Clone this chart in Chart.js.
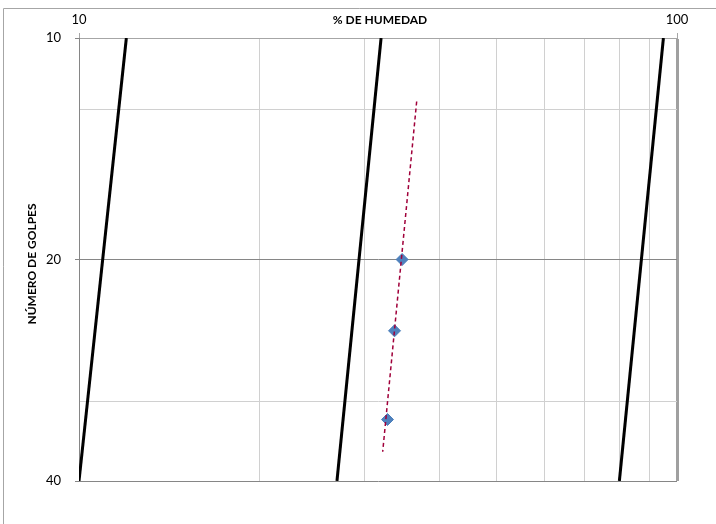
<!DOCTYPE html>
<html>
<head>
<meta charset="utf-8">
<script src="https://cdn.jsdelivr.net/npm/chart.js@4/dist/chart.umd.min.js"></script>
<style>
  html, body { margin: 0; padding: 0; background: #fff; }
  #wrap { width: 716px; height: 524px; position: relative; }
</style>
</head>
<body>
<div id="wrap"><canvas id="c" width="716" height="524"></canvas></div>
<script>
// ---- data ----
const xTitle = '% DE HUMEDAD';
const yTitle = 'NÚMERO DE GOLPES';
const xGridValues = [10, 20, 30, 40, 50, 60, 70, 80, 90, 100];
const xTickLabels = [10, 100];
const yTickLabels = [10, 20, 40];
const yMinorGrid = [12.5, 31.2];

// test points: blows vs moisture
const blows = [20, 25, 33];
const moisture = [34.7, 33.7, 32.8];

// power trendline (forecast) endpoints
const trendBlows = [12.2, 36.5];
const trendMoisture = [36.7, 32.2];

// reference flow lines
const flowBlows = [10, 40];
const flowLine1 = [12.0, 10.0];
const flowLine2 = [32.0, 27.0];
const flowLine3 = [94.9, 80.1];

const pts = (xs, ys) => xs.map((x, i) => ({ x: x, y: ys[i] }));

const FONT = 'Lato, "Open Sans", sans-serif';

const lineDs = (xs) => ({
  data: pts(xs, flowBlows),
  showLine: true,
  borderColor: '#000000',
  borderWidth: 3,
  pointRadius: 0,
  order: 3
});

const textPlugin = {
  id: 'texts',
  beforeDraw(chart) {
    const ctx = chart.ctx;
    ctx.save();
    ctx.fillStyle = '#ffffff';
    ctx.fillRect(0, 0, chart.width, chart.height);
    ctx.strokeStyle = '#a6a6a6';
    ctx.lineWidth = 1;
    ctx.beginPath();
    ctx.moveTo(3.5, chart.height);
    ctx.lineTo(3.5, 8.5);
    ctx.lineTo(chart.width, 8.5);
    ctx.stroke();
    ctx.restore();
  },
  afterDraw(chart) {
    const ctx = chart.ctx;
    const a = chart.chartArea;
    ctx.save();
    ctx.fillStyle = '#000';
    ctx.font = 'bold 12px ' + FONT;
    ctx.textAlign = 'center';
    ctx.textBaseline = 'middle';
    ctx.fillText(xTitle, (a.left + a.right) / 2 + 2, 20);
    ctx.translate(32, 264);
    ctx.rotate(-Math.PI / 2);
    ctx.fillText(yTitle, 0, 0);
    ctx.restore();
  }
};

new Chart(document.getElementById('c'), {
  type: 'scatter',
  data: {
    datasets: [
      {
        data: pts(trendMoisture, trendBlows),
        showLine: true,
        borderColor: '#A0003A',
        borderWidth: 1.5,
        borderDash: [4, 3],
        pointRadius: 0,
        order: 1
      },
      {
        data: pts(moisture, blows),
        pointStyle: 'rectRot',
        pointRadius: 6,
        backgroundColor: '#4F81BD',
        borderColor: '#4A7EBB',
        borderWidth: 1,
        showLine: false,
        order: 2
      },
      lineDs(flowLine1),
      lineDs(flowLine2),
      lineDs(flowLine3)
    ]
  },
  options: {
    responsive: false,
    animation: false,
    events: [],
    layout: { padding: { left: 0, top: 0, right: 39, bottom: 43 } },
    plugins: { legend: { display: false }, tooltip: { enabled: false } },
    scales: {
      x: {
        type: 'logarithmic',
        position: 'top',
        min: 10,
        max: 100,
        afterFit(s) { s.height = 38; },
        afterBuildTicks(s) { s.ticks = xGridValues.map(v => ({ value: v })); },
        border: { display: true, color: '#a6a6a6', width: 1 },
        grid: {
          color: c => (c.tick && c.tick.value === 100) ? '#a0a0a0' : '#d0d0d0',
          lineWidth: c => (c.tick && c.tick.value === 100) ? 3 : 1,
          tickColor: c => (c.tick && xTickLabels.includes(c.tick.value)) ? '#a6a6a6' : 'rgba(0,0,0,0)',
          tickWidth: 1,
          tickLength: 5,
          drawTicks: true
        },
        ticks: {
          autoSkip: false,
          maxRotation: 0,
          padding: 5,
          color: '#000',
          font: { family: FONT, size: 13 },
          callback: v => xTickLabels.includes(v) ? String(v) : ''
        }
      },
      y: {
        type: 'logarithmic',
        reverse: true,
        min: 10,
        max: 40,
        afterFit(s) { s.width = 79; },
        afterBuildTicks(s) {
          s.ticks = yTickLabels.concat(yMinorGrid).sort((a, b) => a - b).map(v => ({ value: v }));
        },
        border: { display: true, color: '#868686', width: 1 },
        grid: {
          color: c => (c.tick && yTickLabels.includes(c.tick.value)) ? '#868686' : '#d0d0d0',
          tickColor: c => (c.tick && yTickLabels.includes(c.tick.value)) ? '#868686' : 'rgba(0,0,0,0)',
          tickLength: 4,
          drawTicks: true
        },
        ticks: {
          autoSkip: false,
          padding: 14,
          color: '#000',
          font: { family: FONT, size: 13 },
          callback: v => yTickLabels.includes(v) ? String(v) : ''
        }
      }
    }
  },
  plugins: [textPlugin]
});
</script>
</body>
</html>
